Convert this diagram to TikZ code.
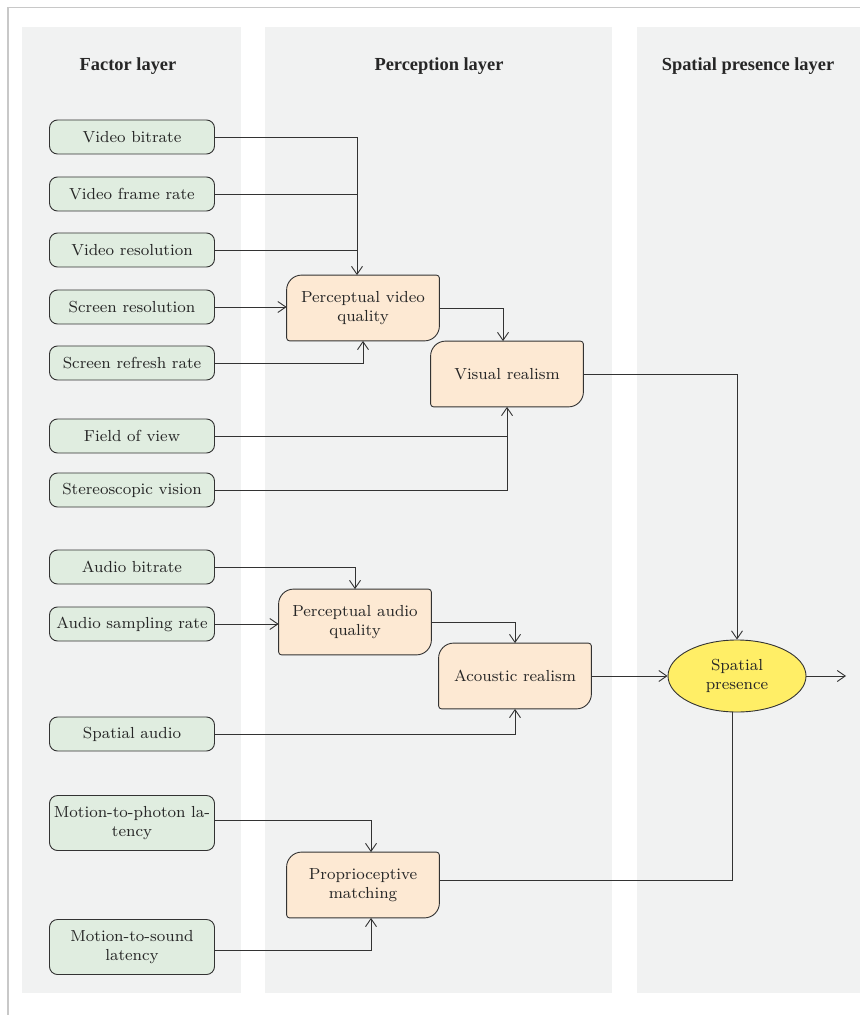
\documentclass[tikz,border=0pt]{standalone}
\usepackage{fontspec}
\newfontfamily\headfont{Liberation Serif}
\usetikzlibrary{arrows.meta,positioning,calc,shapes.geometric,backgrounds}
\pgfdeclarelayer{boxes}
\pgfsetlayers{background,boxes,main}
\definecolor{colbg}{HTML}{F1F2F2}
\definecolor{factorfill}{HTML}{E0EDE0}
\definecolor{percfill}{HTML}{FDE9D3}
\definecolor{presfill}{HTML}{FFEE66}
\definecolor{boxline}{HTML}{333333}
\definecolor{framegray}{HTML}{C8C8C8}

% orange box with two large and two small corners
\newcommand{\percbox}[3]{%
    \node[perc] (#1) at (#2) {#3};
    \begin{pgfonlayer}{boxes}
        \draw[percshape] (#1.west) [rounded corners=7.5pt] -- (#1.north west)
            [rounded corners=1.5pt] -- (#1.north east)
            [rounded corners=7.5pt] -- (#1.south east)
            [rounded corners=1.5pt] -- (#1.south west) -- cycle;
    \end{pgfonlayer}}

\begin{document}
\begin{tikzpicture}[
        x=0.5pt, y=-0.5pt,
        every node/.style={color=black!85, font=\fontsize{8}{9.8}\selectfont},
        head/.style={font=\headfont\bfseries\fontsize{9.2}{10}\selectfont},
        factor/.style={draw=boxline, fill=factorfill, rounded corners=4pt,
            line width=0.45pt, minimum width=82.5pt, minimum height=17pt,
            align=center, inner sep=1pt},
        perc/.style={minimum width=76pt, minimum height=32.5pt, align=center,
            inner sep=1pt},
        percshape/.style={draw=boxline, fill=percfill, line width=0.45pt},
        pres/.style={ellipse, draw=boxline, fill=presfill, line width=0.45pt,
            minimum width=69pt, minimum height=36pt, align=center, inner sep=0pt},
        line/.style={draw=black!80, line width=0.45pt},
        arr/.style={line, -{Straight Barb[length=4pt,width=5.5pt]}},
    ]
    \useasboundingbox (0,0) rectangle (860,1015);
    % frame and columns
    \draw[framegray, line width=0.6pt] (8,1015) -- (8,7.5) -- (860,7.5);
    \begin{pgfonlayer}{background}
        \fill[colbg] (22,27) rectangle (241,993);
        \fill[colbg] (265,27) rectangle (612,993);
        \fill[colbg] (637,27) rectangle (860,993);
    \end{pgfonlayer}

    \node[head] (h1) at (128,66) {Factor layer};
    \node[head] (h2) at (439,66) {Perception layer};
    \node[head] (h3) at (748,66) {Spatial presence layer};

    % factor layer
    \node[factor] (vb) at (132,137) {Video bitrate};
    \node[factor] (vfr) at (132,194) {Video frame rate};
    \node[factor] (vres) at (132,250) {Video resolution};
    \node[factor] (sres) at (132,307) {Screen resolution};
    \node[factor] (srr) at (132,363) {Screen refresh rate};
    \node[factor] (fov) at (132,436) {Field of view};
    \node[factor] (stv) at (132,490) {Stereoscopic vision};
    \node[factor] (ab) at (132,567) {Audio bitrate};
    \node[factor] (asr) at (132,624) {Audio sampling rate};
    \node[factor] (sa) at (132,734) {Spatial audio};
    \node[factor, minimum height=27.5pt] (mtp) at (132,823) {Motion-to-photon la-\\tency};
    \node[factor, minimum height=27.5pt] (mts) at (132,947) {Motion-to-sound\\latency};

    % perception layer
    \percbox{pvq}{363,308}{Perceptual video\\quality}
    \percbox{vr}{507,374}{Visual realism}
    \percbox{paq}{355,622}{Perceptual audio\\quality}
    \percbox{ar}{515,676}{Acoustic realism}
    \percbox{pm}{363,885}{Proprioceptive\\matching}

    % spatial presence layer
    \node[pres] (sp) at (737,676) {Spatial\\presence};
    \coordinate (out) at (846,676);

    % video
    \coordinate (vtrunk) at ([xshift=-3pt]pvq.north);
    \draw[arr] (vb.east) -| (vtrunk);
    \draw[line] (vfr.east) -- (vfr.east -| vtrunk);
    \draw[line] (vres.east) -- (vres.east -| vtrunk);
    \draw[arr] (sres.east) -- (sres.east -| pvq.west);
    \draw[arr] (srr.east) -| (pvq.south);
    \draw[arr] (pvq.east) -| ([xshift=-2pt]vr.north);
    \draw[line] (fov.east) -- (fov.east -| vr.south);
    \draw[arr] (stv.east) -| (vr.south);
    \draw[arr] (vr.east) -| (sp.north);
    % audio
    \draw[arr] (ab.east) -| (paq.north);
    \draw[arr] (asr.east) -- (asr.east -| paq.west);
    \draw[arr] (paq.east) -| (ar.north);
    \draw[arr] (sa.east) -| (ar.south);
    \draw[arr] (ar.east) -- (sp.west);
    % motion
    \draw[arr] ([yshift=1.5pt]mtp.east) -| ([xshift=4pt]pm.north);
    \draw[arr] ([yshift=-1.5pt]mts.east) -| ([xshift=4pt]pm.south);
    \draw[line] ([yshift=2.5pt]pm.east) -| ([xshift=-2.5pt]sp.south);
    \draw[arr] (sp.east) -- (out);
\end{tikzpicture}
\end{document}
